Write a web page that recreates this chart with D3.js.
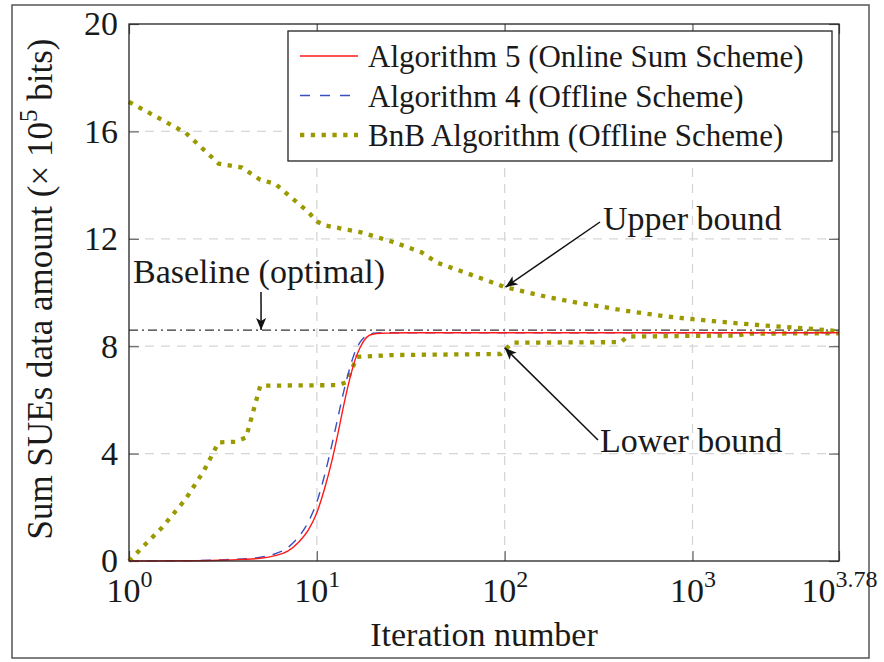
<!DOCTYPE html>
<html>
<head>
<meta charset="utf-8">
<script src="https://cdn.jsdelivr.net/npm/d3@7"></script>
<style>
  body { margin: 0; background: #fff; }
</style>
</head>
<body>
<div id="chart"></div>
<script>
// Chart data
var iterRed = [1, 2, 3, 4, 5, 6, 7, 8, 9, 10, 11, 12, 13, 14, 15, 16, 17, 18, 19, 20, 22, 25, 30, 50, 100, 1000, 6026];
var red = [0, 0.01, 0.03, 0.06, 0.1, 0.2, 0.37, 0.7, 1.15, 1.8, 2.7, 3.7, 4.8, 5.9, 6.8, 7.5, 7.95, 8.25, 8.4, 8.45, 8.48, 8.49, 8.5, 8.5, 8.5, 8.5, 8.5];
var iterBlue = [1, 2, 3, 4, 5, 6, 7, 8, 9, 10, 11, 12, 13, 14, 15, 16, 17, 18, 19, 20, 22, 25, 30, 50, 100, 1000, 6026];
var blue = [0, 0.01, 0.04, 0.08, 0.14, 0.27, 0.5, 0.9, 1.45, 2.2, 3.2, 4.3, 5.4, 6.4, 7.2, 7.8, 8.15, 8.35, 8.45, 8.48, 8.5, 8.5, 8.5, 8.5, 8.5, 8.5, 8.5];
var iterUpper = [1, 2, 3, 4, 5, 6, 9, 10, 11, 17, 25, 36, 44, 64, 92, 100, 177, 255, 432, 741, 1300, 2400, 4400, 6026];
var upper = [17.1, 15.95, 14.8, 14.65, 14.2, 14.05, 13.0, 12.65, 12.5, 12.25, 11.9, 11.5, 11.1, 10.7, 10.3, 10.2, 9.8, 9.6, 9.33, 9.1, 8.93, 8.77, 8.64, 8.56];
var iterLower = [1, 1.5, 2, 2.5, 3, 3.7, 4.2, 5, 13, 14.3, 16.4, 25, 95, 110, 415, 450, 1750, 1950, 6026];
var lower = [0, 1.25, 2.3, 3.35, 4.42, 4.44, 4.6, 6.53, 6.55, 6.65, 7.6, 7.67, 7.71, 8.13, 8.15, 8.36, 8.4, 8.47, 8.48];
var baseline = 8.6;

var xExponents = [0, 1, 2, 3, 3.78];
var yTicks = [0, 4, 8, 12, 16, 20];
var legendLabels = ["Algorithm 5 (Online Sum Scheme)", "Algorithm 4 (Offline Scheme)", "BnB Algorithm (Offline Scheme)"];

var serif = '"Liberation Serif", "Times New Roman", Tinos, serif';

// SVG area
var svgWidth = 884;
var svgHeight = 662;
var margin = { top: 24, right: 45, bottom: 101, left: 129 };
var width = svgWidth - margin.left - margin.right;
var height = svgHeight - margin.top - margin.bottom;

var svg = d3.select("#chart").append("svg")
    .attr("width", svgWidth)
    .attr("height", svgHeight)
    .style("font-family", serif);

// outer frame of the figure
svg.append("rect")
    .attr("x", 12).attr("y", 5)
    .attr("width", 857).attr("height", 653)
    .attr("fill", "none")
    .attr("stroke", "#555")
    .attr("stroke-width", 1.5);

var chartGroup = svg.append("g")
    .attr("transform", `translate(${margin.left}, ${margin.top})`);

// scales
var xScale = d3.scaleLog()
    .domain([1, Math.pow(10, 3.78)])
    .range([0, width]);
var yScale = d3.scaleLinear()
    .domain([0, 20])
    .range([height, 0]);

var xTickVals = xExponents.map(e => Math.pow(10, e));

// grid lines
chartGroup.append("g")
    .selectAll("line")
    .data(xTickVals.slice(1, 4))
    .enter().append("line")
    .attr("x1", d => xScale(d)).attr("x2", d => xScale(d))
    .attr("y1", 0).attr("y2", height)
    .attr("stroke", "#d6d6d6").attr("stroke-width", 1.3)
    .attr("stroke-dasharray", "9,7");
chartGroup.append("g")
    .selectAll("line")
    .data(yTicks.slice(1, 5))
    .enter().append("line")
    .attr("x1", 0).attr("x2", width)
    .attr("y1", d => yScale(d)).attr("y2", d => yScale(d))
    .attr("stroke", "#d6d6d6").attr("stroke-width", 1.3)
    .attr("stroke-dasharray", "9,7");

// axes (inward ticks on all four sides)
function styleAxis(g) {
    g.attr("font-family", null).attr("font-size", null);
    g.select(".domain").remove();
    g.selectAll(".tick line").attr("stroke", "#666").attr("stroke-width", 1.2);
}

var bottomAxis = d3.axisBottom(xScale).tickValues(xTickVals).tickSizeInner(-10).tickSizeOuter(0);
var xAxis = chartGroup.append("g")
    .attr("transform", `translate(0, ${height})`)
    .call(bottomAxis)
    .call(styleAxis);
xAxis.selectAll(".tick text")
    .style("font-family", serif)
    .attr("font-size", 34)
    .attr("fill", "#1a1a1a")
    .attr("y", 41)
    .attr("dy", 0)
    .each(function(d, i) {
        var t = d3.select(this);
        t.text(null);
        t.append("tspan").text("10");
        t.append("tspan").attr("dy", -15).attr("font-size", 24).text(String(xExponents[i]));
    });

chartGroup.append("g")
    .call(d3.axisTop(xScale).tickValues(xTickVals).tickSizeInner(-10).tickSizeOuter(0).tickFormat(""))
    .call(styleAxis);

var leftAxis = d3.axisLeft(yScale).tickValues(yTicks).tickSizeInner(-10).tickSizeOuter(0).tickPadding(11);
chartGroup.append("g")
    .call(leftAxis)
    .call(styleAxis)
    .selectAll(".tick text")
    .style("font-family", serif)
    .attr("font-size", 34)
    .attr("fill", "#1a1a1a");

chartGroup.append("g")
    .attr("transform", `translate(${width}, 0)`)
    .call(d3.axisRight(yScale).tickValues(yTicks).tickSizeInner(-10).tickSizeOuter(0).tickFormat(""))
    .call(styleAxis);

// baseline (optimal)
chartGroup.append("line")
    .attr("x1", 0).attr("x2", width)
    .attr("y1", yScale(baseline)).attr("y2", yScale(baseline))
    .attr("stroke", "#333").attr("stroke-width", 1.4)
    .attr("stroke-dasharray", "9,4,2,4");

// series
function toPoints(xs, ys) {
    return xs.map((x, i) => [x, ys[i]]);
}
var line = d3.line()
    .x(d => xScale(d[0]))
    .y(d => yScale(d[1]));

var olive = "#9a9a00";

chartGroup.append("path")
    .datum(toPoints(iterUpper, upper))
    .attr("d", line)
    .attr("fill", "none").attr("stroke", olive)
    .attr("stroke-width", 4.3).attr("stroke-dasharray", "4.3,6.5");
chartGroup.append("path")
    .datum(toPoints(iterLower, lower))
    .attr("d", line)
    .attr("fill", "none").attr("stroke", olive)
    .attr("stroke-width", 4.3).attr("stroke-dasharray", "4.3,6.5");
chartGroup.append("path")
    .datum(toPoints(iterBlue, blue))
    .attr("d", line.curve(d3.curveMonotoneX))
    .attr("fill", "none").attr("stroke", "#3a4fc0")
    .attr("stroke-width", 1.4).attr("stroke-dasharray", "10,8");
chartGroup.append("path")
    .datum(toPoints(iterRed, red))
    .attr("d", line.curve(d3.curveMonotoneX))
    .attr("fill", "none").attr("stroke", "#ff1a1a")
    .attr("stroke-width", 1.4);

// plot border
chartGroup.append("rect")
    .attr("width", width).attr("height", height)
    .attr("fill", "none").attr("stroke", "#222").attr("stroke-width", 1.3);

// arrow marker
svg.append("defs").append("marker")
    .attr("id", "arrow")
    .attr("viewBox", "0 0 12 10")
    .attr("refX", 12).attr("refY", 5)
    .attr("markerWidth", 12).attr("markerHeight", 10)
    .attr("markerUnits", "userSpaceOnUse")
    .attr("orient", "auto")
    .append("path")
    .attr("d", "M0,0 L12,5 L0,10 L3,5 Z")
    .attr("fill", "#111");

// annotations (text positions in chart-group pixels, tips in data units)
var annotations = [
    { text: "Baseline (optimal)", tx: 4, ty: 259, x1: 132, y1: 268, tip: [5.05, baseline] },
    { text: "Upper bound", tx: 474, ty: 206, x1: 471, y1: 198, tip: [101, 10.2] },
    { text: "Lower bound", tx: 471, ty: 428, x1: 469, y1: 416, tip: [100, 7.94] }
];
chartGroup.selectAll(".annot")
    .data(annotations)
    .enter().append("text")
    .attr("x", d => d.tx).attr("y", d => d.ty)
    .attr("font-size", 34)
    .attr("fill", "#1a1a1a")
    .text(d => d.text);
chartGroup.selectAll(".arrow")
    .data(annotations)
    .enter().append("line")
    .attr("x1", d => d.x1).attr("y1", d => d.y1)
    .attr("x2", d => xScale(d.tip[0])).attr("y2", d => yScale(d.tip[1]))
    .attr("stroke", "#111").attr("stroke-width", 1.5)
    .attr("marker-end", "url(#arrow)");

// legend
var legend = chartGroup.append("g")
    .attr("transform", `translate(${288 - margin.left}, ${31 - margin.top})`);
legend.append("rect")
    .attr("width", 544).attr("height", 130)
    .attr("fill", "#fff").attr("stroke", "#222").attr("stroke-width", 1.3);
var legendStyles = [
    { stroke: "#ff1a1a", width: 1.4, dash: null },
    { stroke: "#3a4fc0", width: 1.4, dash: "10,10" },
    { stroke: olive, width: 4.3, dash: "4.3,6.5" }
];
legendLabels.forEach(function(label, i) {
    var row = legend.append("g").attr("transform", `translate(0, ${25 + i * 39.5})`);
    row.append("line")
        .attr("x1", 12).attr("x2", 70)
        .attr("y1", 0).attr("y2", 0)
        .attr("stroke", legendStyles[i].stroke)
        .attr("stroke-width", legendStyles[i].width)
        .attr("stroke-dasharray", legendStyles[i].dash);
    row.append("text")
        .attr("x", 80).attr("y", 11)
        .attr("font-size", 31)
        .attr("fill", "#1a1a1a")
        .text(label);
});

// axis labels
svg.append("text")
    .attr("x", margin.left + width / 2)
    .attr("y", 646)
    .attr("text-anchor", "middle")
    .attr("font-size", 34)
    .attr("fill", "#1a1a1a")
    .text("Iteration number");

var yLabel = svg.append("text")
    .attr("transform", "translate(52, 289) rotate(-90)")
    .attr("text-anchor", "middle")
    .attr("font-size", 35)
    .attr("fill", "#1a1a1a");
yLabel.append("tspan").text("Sum SUEs data amount (\u00d7 10");
yLabel.append("tspan").attr("dy", -15).attr("font-size", 25).text("5");
yLabel.append("tspan").attr("dy", 15).text(" bits)");
</script>
</body>
</html>
